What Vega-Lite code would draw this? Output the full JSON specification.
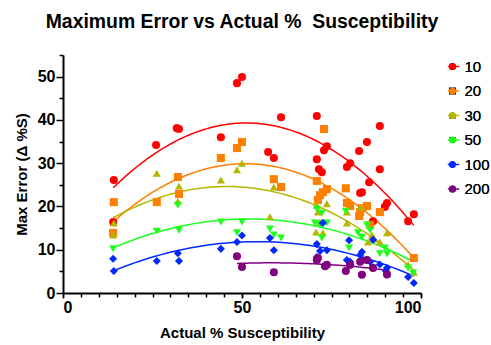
{
  "$schema": "https://vega.github.io/schema/vega-lite/v6.json",
  "autosize": {"type": "none"},
  "width": 358,
  "height": 238,
  "padding": {"left": 63, "top": 55, "right": 70, "bottom": 52},
  "background": "white",
  "title": {"text": "Maximum Error vs Actual %\u00a0 Susceptibility", "font": "Liberation Sans", "fontSize": 19.4, "fontWeight": "bold", "color": "black", "offset": 22, "anchor": "middle"},
  "config": {"view": {"stroke": null}, "axis": {"grid": false}, "legend": {"padding": 0, "labelFontWeight": "normal"}},
  "datasets": {
    "pts": [
      {"s":"10","x":14.2,"y":26.1},{"s":"10","x":14,"y":16.4},{"s":"10","x":26,"y":34.2},{"s":"10","x":31.8,"y":38.1},{"s":"10","x":32.4,"y":37.9},{"s":"10","x":44.1,"y":36.0},{"s":"10","x":48.6,"y":48.5},{"s":"10","x":50,"y":49.9},{"s":"10","x":57.3,"y":32.6},{"s":"10","x":58.9,"y":31.2},{"s":"10","x":60.9,"y":40.6},{"s":"10","x":70.9,"y":40.9},{"s":"10","x":72.9,"y":33.0},{"s":"10","x":73.7,"y":33.9},{"s":"10","x":70.9,"y":30.9},{"s":"10","x":71.5,"y":28.6},{"s":"10","x":72.3,"y":27.9},{"s":"10","x":79.3,"y":29.1},{"s":"10","x":80.2,"y":30.0},{"s":"10","x":82.7,"y":32.8},{"s":"10","x":84.9,"y":34.9},{"s":"10","x":88.5,"y":38.6},{"s":"10","x":88.5,"y":28.6},{"s":"10","x":85.5,"y":25.6},{"s":"10","x":83,"y":23.1},{"s":"10","x":83.5,"y":23.3},{"s":"10","x":89.9,"y":19.9},{"s":"10","x":90.5,"y":20.8},{"s":"10","x":86.6,"y":16.6},{"s":"10","x":96.4,"y":16.6},{"s":"10","x":98,"y":18.2},
      {"s":"20","x":14.2,"y":21.0},{"s":"20","x":14,"y":13.9},{"s":"20","x":26.2,"y":21.0},{"s":"20","x":32.1,"y":26.8},{"s":"20","x":32.4,"y":22.9},{"s":"20","x":44.1,"y":31.2},{"s":"20","x":48.6,"y":33.5},{"s":"20","x":50,"y":34.9},{"s":"20","x":58.9,"y":26.3},{"s":"20","x":60.9,"y":24.5},{"s":"20","x":72.9,"y":37.9},{"s":"20","x":70.9,"y":25.9},{"s":"20","x":73.7,"y":24.0},{"s":"20","x":72.6,"y":23.3},{"s":"20","x":71.8,"y":22.6},{"s":"20","x":71.2,"y":21.5},{"s":"20","x":79,"y":24.2},{"s":"20","x":79.3,"y":20.8},{"s":"20","x":80.2,"y":20.1},{"s":"20","x":83,"y":18.7},{"s":"20","x":83.5,"y":19.6},{"s":"20","x":82.7,"y":17.8},{"s":"20","x":84.9,"y":20.1},{"s":"20","x":85.8,"y":15.7},{"s":"20","x":88.5,"y":18.7},{"s":"20","x":98,"y":8.1},
      {"s":"30","x":14.2,"y":16.2},{"s":"30","x":14,"y":13.4},{"s":"30","x":26.2,"y":27.7},{"s":"30","x":32.4,"y":24.7},{"s":"30","x":32.1,"y":21.2},{"s":"30","x":44.1,"y":26.1},{"s":"30","x":48.6,"y":28.5},{"s":"30","x":50,"y":30.0},{"s":"30","x":58.9,"y":24.5},{"s":"30","x":57.8,"y":17.6},{"s":"30","x":71.2,"y":18.7},{"s":"30","x":73.7,"y":20.6},{"s":"30","x":70.9,"y":20.3},{"s":"30","x":71.8,"y":16.4},{"s":"30","x":70.7,"y":14.1},{"s":"30","x":72.6,"y":13.9},{"s":"30","x":79.3,"y":18.7},{"s":"30","x":79.3,"y":16.2},{"s":"30","x":83.2,"y":19.9},{"s":"30","x":85.2,"y":11.8},{"s":"30","x":86.3,"y":13.4},{"s":"30","x":86.9,"y":12.5},{"s":"30","x":88.5,"y":11.8},{"s":"30","x":90.5,"y":13.9},{"s":"30","x":96.4,"y":6.6},{"s":"30","x":98,"y":4.8},
      {"s":"50","x":14,"y":10.2},{"s":"50","x":26.2,"y":14.3},{"s":"50","x":32.1,"y":20.3},{"s":"50","x":32.4,"y":14.5},{"s":"50","x":44.1,"y":16.4},{"s":"50","x":48.6,"y":13.9},{"s":"50","x":50,"y":16.4},{"s":"50","x":57.8,"y":14.8},{"s":"50","x":58.9,"y":13.4},{"s":"50","x":60.9,"y":12.7},{"s":"50","x":70.9,"y":19.4},{"s":"50","x":72.3,"y":18.5},{"s":"50","x":71.8,"y":15.7},{"s":"50","x":72.3,"y":12.7},{"s":"50","x":70.4,"y":16.2},{"s":"50","x":73.7,"y":16.2},{"s":"50","x":79,"y":18.9},{"s":"50","x":79.9,"y":10.4},{"s":"50","x":82.4,"y":13.9},{"s":"50","x":83.5,"y":12.9},{"s":"50","x":84.9,"y":15.7},{"s":"50","x":85.8,"y":14.5},{"s":"50","x":88.5,"y":9.1},{"s":"50","x":89.9,"y":10.4},{"s":"50","x":90.5,"y":9.0},{"s":"50","x":96.4,"y":5.8},{"s":"50","x":97.8,"y":4.6},
      {"s":"100","x":14,"y":7.9},{"s":"100","x":14.2,"y":5.1},{"s":"100","x":26.2,"y":7.4},{"s":"100","x":32.1,"y":9.2},{"s":"100","x":32.4,"y":7.4},{"s":"100","x":44.1,"y":10.2},{"s":"100","x":48.6,"y":11.8},{"s":"100","x":50,"y":13.3},{"s":"100","x":57.8,"y":12.7},{"s":"100","x":58.9,"y":9.9},{"s":"100","x":70.9,"y":11.3},{"s":"100","x":70.9,"y":8.3},{"s":"100","x":71.8,"y":9.7},{"s":"100","x":73.7,"y":9.9},{"s":"100","x":72.6,"y":16.2},{"s":"100","x":79.9,"y":12.2},{"s":"100","x":79.3,"y":7.6},{"s":"100","x":80.2,"y":7.2},{"s":"100","x":83,"y":8.8},{"s":"100","x":83.5,"y":9.5},{"s":"100","x":83.8,"y":7.6},{"s":"100","x":84.9,"y":7.6},{"s":"100","x":85.8,"y":7.2},{"s":"100","x":86.6,"y":12.3},{"s":"100","x":88.5,"y":6.6},{"s":"100","x":90.5,"y":5.8},{"s":"100","x":90.2,"y":5.1},{"s":"100","x":96.4,"y":3.7},{"s":"100","x":98,"y":2.3},
      {"s":"200","x":48.6,"y":8.5},{"s":"200","x":50,"y":6.0},{"s":"200","x":58.9,"y":4.8},{"s":"200","x":70.9,"y":7.6},{"s":"200","x":71.2,"y":8.1},{"s":"200","x":73.2,"y":6.2},{"s":"200","x":73.7,"y":6.5},{"s":"200","x":79,"y":5.1},{"s":"200","x":80.2,"y":6.5},{"s":"200","x":83,"y":7.2},{"s":"200","x":83.5,"y":4.2},{"s":"200","x":84.9,"y":7.6},{"s":"200","x":86.6,"y":5.8},{"s":"200","x":90.5,"y":4.3}
    ]
  },
  "data": {"name": "pts"},
  "resolve": {"axis": {"x": "independent", "y": "independent"}, "scale": {"color": "independent"}},
  "layer": [
    {
      "transform": [{"regression": "y", "on": "x", "groupby": ["s"], "method": "poly", "order": 2}],
      "mark": {"type": "line", "strokeWidth": 1.5, "clip": true},
      "encoding": {
        "x": {"field": "x", "type": "quantitative", "scale": {"domain": [0, 100], "nice": false, "zero": false},
          "axis": {"orient": "bottom", "values": [0,5,10,15,20,25,30,35,40,45,50,55,60,65,70,75,80,85,90,95,100], "labels": false, "title": null, "domain": false, "tickSize": 4, "tickWidth": 1.5, "tickColor": "black"}},
        "y": {"field": "y", "type": "quantitative", "scale": {"domain": [0, 55], "nice": false},
          "axis": {"orient": "left", "values": [5,15,25,35,45,55], "labels": false, "title": null, "domain": false, "tickSize": 4, "tickWidth": 1.5, "tickColor": "black"}},
        "color": {"field": "s", "type": "nominal", "sort": ["10","20","30","50","100","200"], "title": null,
          "scale": {"domain": ["10","20","30","50","100","200"], "range": ["#FF0000","#FF7F00","#B5B500","#1EFF1E","#0028FF","#800080"]},
          "legend": {"orient": "none", "legendX": 383, "legendY": 4, "symbolType": "stroke", "symbolSize": 130, "symbolStrokeWidth": 1.5, "labelFont": "Liberation Sans", "labelFontSize": 15, "labelExpr": "''", "rowPadding": 8.5, "labelOffset": 3}}
      }
    },
    {
      "mark": {"type": "point", "filled": true, "opacity": 1, "size": 65},
      "encoding": {
        "x": {"field": "x", "type": "quantitative",
          "axis": {"orient": "bottom", "values": [0, 50, 100], "title": "Actual % Susceptibility", "titleFont": "Liberation Sans", "titleFontSize": 15, "titleFontWeight": "bold", "titleColor": "black", "titlePadding": 10,
            "labelFont": "Liberation Sans", "labelFontSize": 16, "labelFontWeight": "bold", "labelColor": "black", "labelPadding": 1,
            "domainColor": "black", "domainWidth": 2, "tickColor": "black", "tickWidth": 1.5, "tickSize": 5}},
        "y": {"field": "y", "type": "quantitative",
          "axis": {"orient": "left", "values": [0, 10, 20, 30, 40, 50], "title": "Max Error (Δ %S)", "titleFont": "Liberation Sans", "titleFontSize": 15, "titleFontWeight": "bold", "titleColor": "black", "titlePadding": 8,
            "labelFont": "Liberation Sans", "labelFontSize": 16, "labelFontWeight": "bold", "labelColor": "black", "labelPadding": 1,
            "domainColor": "black", "domainWidth": 2, "tickColor": "black", "tickWidth": 1.5, "tickSize": 7}},
        "color": {"field": "s", "type": "nominal", "sort": ["10","20","30","50","100","200"], "title": null,
          "scale": {"domain": ["10","20","30","50","100","200"], "range": ["#FF0000","#FF7F00","#B5B500","#1EFF1E","#0028FF","#800080"]},
          "legend": {"orient": "none", "legendX": 382, "legendY": 4, "labelFont": "Liberation Sans", "labelFontSize": 15, "labelFontWeight": "normal", "labelColor": "black", "symbolSize": 50, "rowPadding": 8.5, "labelOffset": 4.5}},
        "shape": {"field": "s", "type": "nominal", "sort": ["10","20","30","50","100","200"], "title": null,
          "scale": {"domain": ["10","20","30","50","100","200"], "range": ["circle","square","triangle-up","triangle-down","diamond","circle"]},
          "legend": {"orient": "none", "legendX": 382, "legendY": 4, "labelFont": "Liberation Sans", "labelFontSize": 15, "labelFontWeight": "normal", "labelColor": "black", "symbolSize": 50, "rowPadding": 8.5, "labelOffset": 4.5}}
      }
    }
  ]
}
